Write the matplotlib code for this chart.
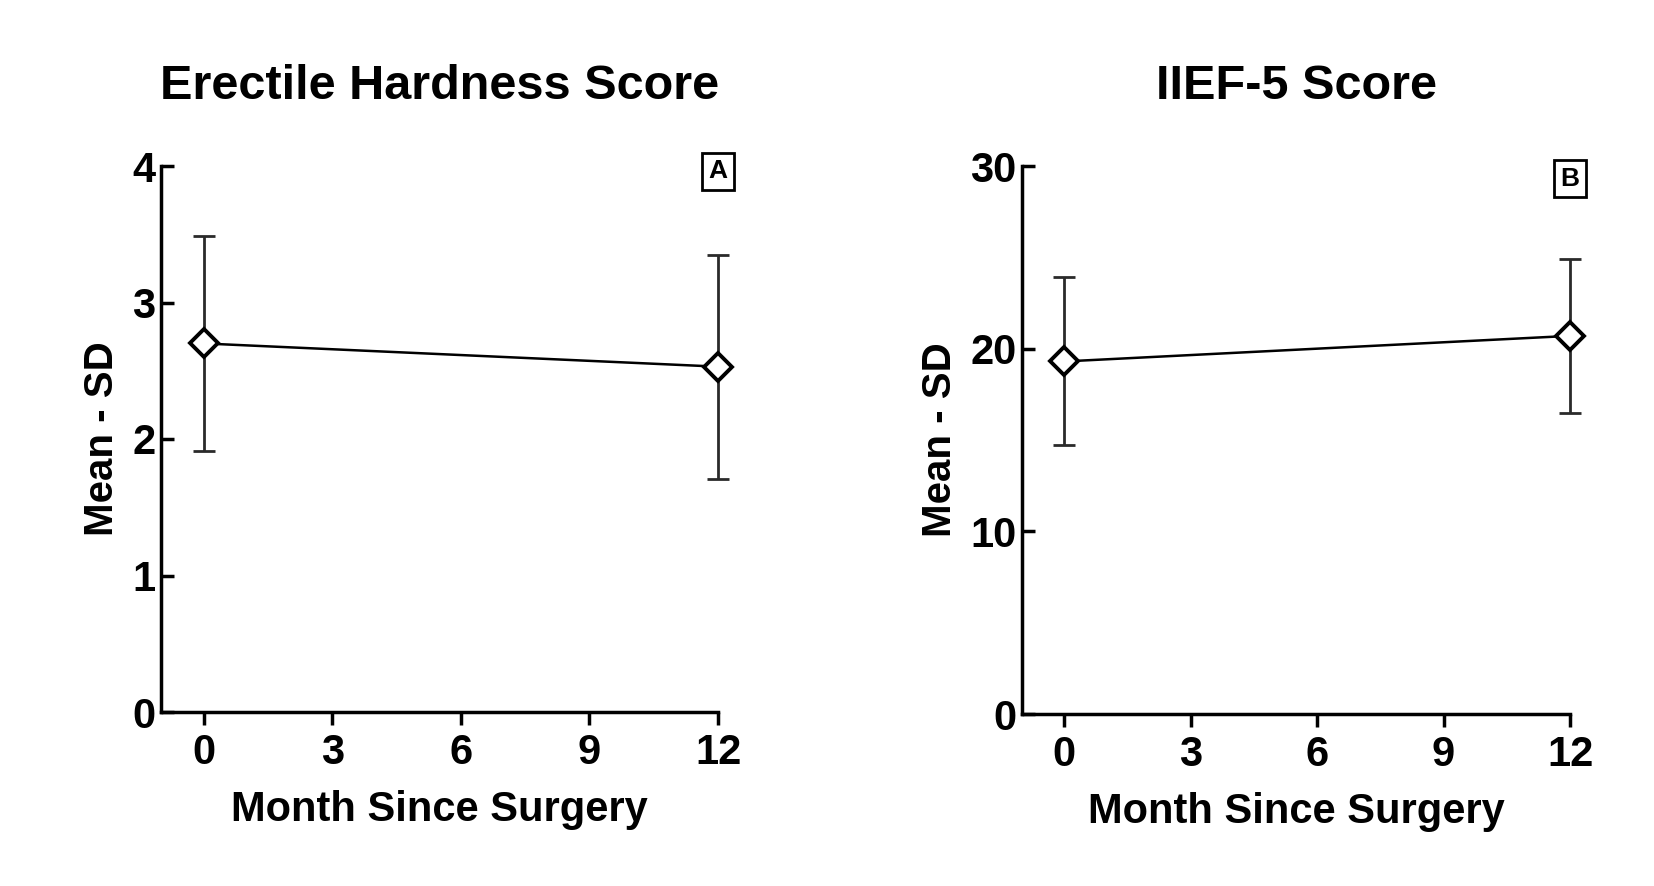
import matplotlib
matplotlib.use("Agg")
import matplotlib.pyplot as plt

plt.rcParams['font.family'] = ['Liberation Sans', 'DejaVu Sans']
plt.rcParams['font.weight'] = 'bold'

# data
months = [0, 12]
ehs_mean = [2.70, 2.53]
ehs_sd = [0.79, 0.82]
iief_mean = [19.3, 20.7]
iief_sd = [4.6, 4.2]

x_ticks = [0, 3, 6, 9, 12]
ehs_yticks = [0, 1, 2, 3, 4]
iief_yticks = [0, 10, 20, 30]

fig = plt.figure(figsize=(16.54, 8.86), dpi=100)

W, H = 1654, 886
def px_axes(left, right, top, bottom):
    return fig.add_axes([left / W, 1 - bottom / H, (right - left) / W, (bottom - top) / H])

ax1 = px_axes(161, 718, 166, 712)
ax2 = px_axes(1022, 1570, 166, 714)

panels = [
    (ax1, ehs_mean, ehs_sd, ehs_yticks, 'Erectile Hardness Score', 'A', 3.96),
    (ax2, iief_mean, iief_sd, iief_yticks, 'IIEF-5 Score', 'B', 29.3),
]

for ax, mean, sd, yticks, title, letter, ly in panels:
    eb = ax.errorbar(months, mean, yerr=sd, fmt='none', ecolor='#2a2a2a',
                     elinewidth=2.0, capsize=8, capthick=2.0, zorder=2)
    for art in eb.lines[1] + eb.lines[2]:
        art.set_clip_on(False)
    ax.plot(months, mean, color='black', lw=1.8, marker='D', markersize=14,
            markerfacecolor='white', markeredgecolor='black', markeredgewidth=2.8,
            zorder=3, clip_on=False)
    ax.set_xlim(-1, 12)
    ax.set_ylim(yticks[0], yticks[-1])
    ax.set_xticks(x_ticks)
    ax.set_yticks(yticks)
    for s in ['top', 'right']:
        ax.spines[s].set_visible(False)
    for s in ['left', 'bottom']:
        ax.spines[s].set_linewidth(2.5)
    ax.tick_params(axis='x', direction='out', length=9, width=2.5, labelsize=30, pad=6)
    ax.tick_params(axis='y', direction='in', length=9, width=2.5, labelsize=30, pad=4)
    for lab in ax.get_xticklabels() + ax.get_yticklabels():
        lab.set_fontweight('bold')
    ax.set_title(title, fontsize=35, fontweight='bold', pad=48)
    ax.set_xlabel('Month Since Surgery', fontsize=30, fontweight='bold', labelpad=12)
    ax.set_ylabel('Mean - SD', fontsize=29, fontweight='bold', labelpad=8)
    ax.text(12, ly, letter, fontsize=19, fontweight='bold', ha='center', va='center',
            bbox=dict(boxstyle='square,pad=0.25', facecolor='white', edgecolor='black', lw=2))

fig.savefig('out.png', dpi=100, facecolor='white')
